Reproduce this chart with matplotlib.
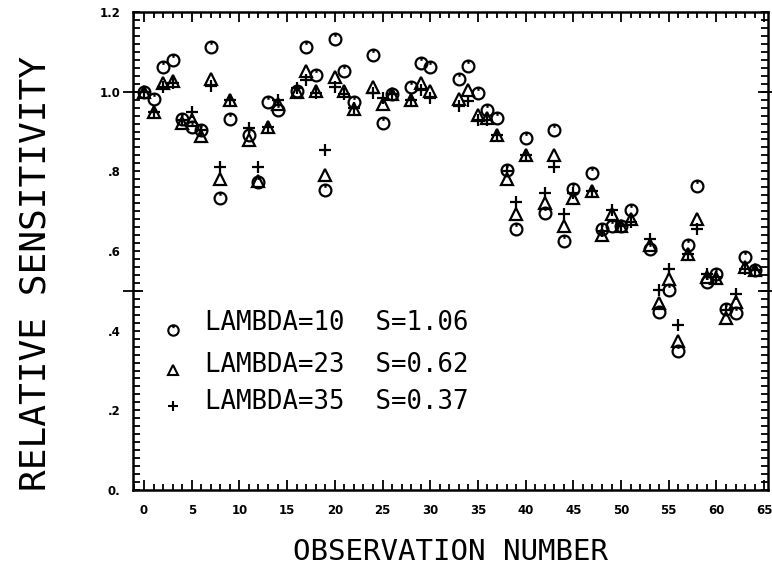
import matplotlib
matplotlib.use("Agg")
import matplotlib.pyplot as plt
from matplotlib.path import Path
from matplotlib.ticker import MultipleLocator, FixedLocator, NullFormatter

# Observation numbers that were measured
obs = [0, 1, 2, 3, 4, 5, 6, 7, 8, 9, 11, 12, 13, 14, 16, 17, 18, 19, 20, 21,
       22, 24, 25, 26, 28, 29, 30, 33, 34, 35, 36, 37, 38, 39, 40, 42, 43, 44,
       45, 47, 48, 49, 50, 51, 53, 54, 55, 56, 57, 58, 59, 60, 61, 62, 63, 64]

# Relative sensitivity for each wavelength setting
sens_l10 = [1.000, 0.982, 1.061, 1.080, 0.931, 0.911, 0.905, 1.112, 0.733, 0.931,
            0.892, 0.772, 0.973, 0.953, 1.001, 1.112, 1.043, 0.752, 1.131, 1.051,
            0.973, 1.093, 0.921, 0.995, 1.012, 1.072, 1.062, 1.033, 1.064, 0.997,
            0.955, 0.934, 0.804, 0.655, 0.884, 0.695, 0.905, 0.626, 0.755, 0.795,
            0.654, 0.663, 0.663, 0.704, 0.606, 0.446, 0.502, 0.348, 0.614, 0.764,
            0.523, 0.543, 0.454, 0.444, 0.585, 0.553]
sens_l23 = [1.000, 0.950, 1.022, 1.028, 0.922, 0.928, 0.889, 1.032, 0.781, 0.980,
            0.879, 0.777, 0.911, 0.970, 1.000, 1.051, 1.001, 0.791, 1.038, 1.001,
            0.956, 1.012, 0.970, 0.995, 0.978, 1.022, 1.001, 0.982, 1.004, 0.942,
            0.934, 0.892, 0.781, 0.692, 0.840, 0.720, 0.841, 0.662, 0.733, 0.750,
            0.641, 0.692, 0.663, 0.680, 0.615, 0.469, 0.529, 0.373, 0.593, 0.681,
            0.535, 0.532, 0.431, 0.471, 0.560, 0.553]
sens_l35 = [1.000, 0.950, 1.012, 1.023, 0.930, 0.950, 0.903, 1.015, 0.812, 0.980,
            0.909, 0.812, 0.911, 0.978, 1.008, 1.030, 0.997, 0.853, 1.012, 0.995,
            0.960, 0.997, 0.984, 0.995, 0.980, 1.005, 0.984, 0.965, 0.976, 0.928,
            0.928, 0.890, 0.800, 0.723, 0.840, 0.745, 0.812, 0.694, 0.745, 0.750,
            0.650, 0.703, 0.663, 0.673, 0.631, 0.502, 0.555, 0.415, 0.593, 0.654,
            0.543, 0.535, 0.452, 0.492, 0.555, 0.553]

legend_labels = ["LAMBDA=10  S=1.06", "LAMBDA=23  S=0.62", "LAMBDA=35  S=0.37"]
x_ticks = list(range(0, 70, 5))
y_ticks = [0.0, 0.2, 0.4, 0.6, 0.8, 1.0, 1.2]
y_tick_labels = ["0.", ".2", ".4", ".6", ".8", "1.0", "1.2"]

# Plotter-style circle symbol: a ring with a short stroke down from the top
_circ = Path.unit_circle()
_stroke = Path([(0, 1.0), (0, 0.45)], [Path.MOVETO, Path.LINETO])
circle_sym = Path.make_compound_path(_circ, _stroke)

fig = plt.figure(figsize=(7.72, 5.74), dpi=100)
ax = fig.add_axes([0.1723, 0.1463, 0.8225, 0.8328])

ink = "black"
ms = 8.5
mew = 1.6
ax.plot(obs, sens_l10, linestyle="none", marker=circle_sym, ms=ms,
        mfc="none", mec=ink, mew=mew)
ax.plot(obs, sens_l23, linestyle="none", marker="^", ms=ms * 0.95,
        mfc="none", mec=ink, mew=mew)
ax.plot(obs, sens_l35, linestyle="none", marker="+", ms=ms * 1.1,
        mfc="none", mec=ink, mew=mew)

ax.set_xlim(-1.15, 65.4)
ax.set_ylim(0.0, 1.2)

for s in ax.spines.values():
    s.set_linewidth(1.8)

ax.xaxis.set_major_locator(FixedLocator(x_ticks))
ax.xaxis.set_minor_locator(MultipleLocator(1))
ax.yaxis.set_major_locator(FixedLocator(y_ticks))
ax.yaxis.set_minor_locator(MultipleLocator(0.02))
ax.set_yticklabels(y_tick_labels)

ax.tick_params(axis="both", which="both", direction="in",
               top=True, right=True, width=1.3, color=ink)
ax.tick_params(axis="x", which="major", length=7, pad=10)
ax.tick_params(axis="x", which="minor", length=4)
ax.tick_params(axis="y", which="major", length=5, pad=9)
ax.tick_params(axis="y", which="minor", length=5)

for lab in ax.get_xticklabels() + ax.get_yticklabels():
    lab.set_fontfamily("DejaVu Sans")
    lab.set_fontweight("bold")
    lab.set_fontsize(8.5)

# Long crossing ticks at the half-unit marks on both vertical sides
for side in ("left", "right"):
    sec = ax.secondary_yaxis(side)
    sec.spines[side].set_visible(False)
    sec.yaxis.set_major_locator(FixedLocator([0.5, 1.0]))
    sec.yaxis.set_major_formatter(NullFormatter())
    sec.tick_params(axis="y", which="major", direction="inout", length=14,
                    width=1.3, color=ink)
    sec.yaxis.set_minor_locator(FixedLocator([]))

mono = "DejaVu Sans Mono"
ax.set_xlabel("OBSERVATION NUMBER", fontfamily=mono, fontsize=21,
              labelpad=15, color=ink)
fig.text(0.046, 0.524, "RELATIVE SENSITIVITY", rotation=90, fontfamily=mono,
         fontsize=26, ha="center", va="center", color=ink)

# In-plot key
key_marks = [circle_sym, "^", "+"]
key_mark_y = [0.335, 0.251, 0.176]
key_text_y = [0.349, 0.262, 0.185]
for mk, my, ty, txt in zip(key_marks, key_mark_y, key_text_y, legend_labels):
    ax.plot([0.0625], [my], transform=ax.transAxes, linestyle="none",
            marker=mk, ms=7.5, mfc="none", mec=ink, mew=1.5, clip_on=False)
    ax.text(0.114, ty, txt, transform=ax.transAxes, fontfamily=mono,
            fontsize=18.5, ha="left", va="center", color=ink)

fig.savefig("out.png", dpi=100)
